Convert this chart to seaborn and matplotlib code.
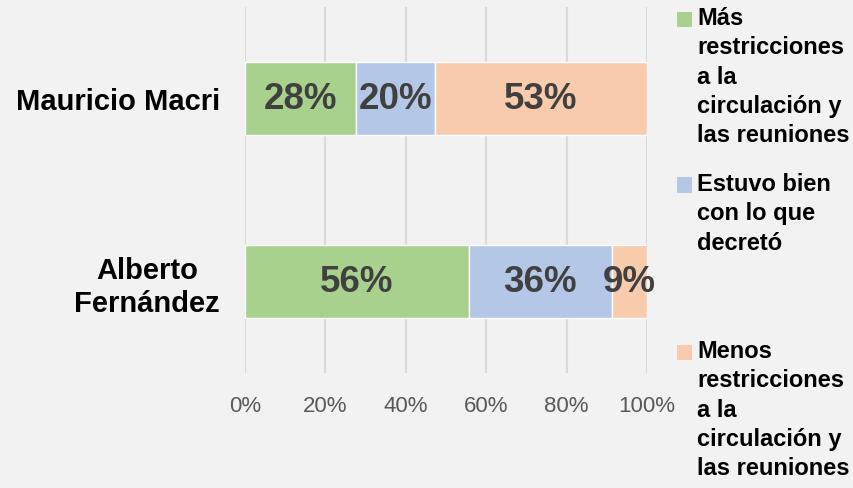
import matplotlib
matplotlib.use("Agg")
import matplotlib.pyplot as plt
import seaborn as sns
import pandas as pd
import numpy as np
from matplotlib.patches import Rectangle

# ---- data ----
candidates = ["Mauricio Macri", "Alberto\nFernández"]
series_names = [
    "Más\nrestricciones\na la\ncirculación y\nlas reuniones",
    "Estuvo bien\ncon lo que\ndecretó",
    "Menos\nrestricciones\na la\ncirculación y\nlas reuniones",
]
mas_restricciones = [27.6, 55.6]
estuvo_bien = [19.6, 35.6]
menos_restricciones = [52.8, 8.8]
bar_labels = [["28%", "56%"], ["20%", "36%"], ["53%", "9%"]]
tick_values = [0, 20, 40, 60, 80, 100]
tick_labels = ["0%", "20%", "40%", "60%", "80%", "100%"]

colors = ["#A9D18E", "#B4C7E7", "#F8CBAD"]

sns.set_theme(style="white")
plt.rcParams["font.family"] = ["Liberation Sans", "DejaVu Sans"]

df = pd.DataFrame({
    "candidate": candidates,
    "s0": mas_restricciones,
    "s1": estuvo_bien,
    "s2": menos_restricciones,
})

bg = "#F2F2F2"
fig = plt.figure(figsize=(8.54, 4.89), dpi=100, facecolor=bg)
ax = fig.add_axes([245 / 854, 1 - 374 / 489, (647 - 245) / 854, 366 / 489])
ax.set_facecolor(bg)

left = np.zeros(len(candidates))
for i, col in enumerate(["s0", "s1", "s2"]):
    sns.barplot(data=df, x=col, y="candidate", orient="h", color=colors[i],
                left=left, width=0.4, ax=ax, saturation=1, zorder=3)
    cont = ax.containers[-1]
    ax.bar_label(cont, labels=bar_labels[i], label_type="center",
                 fontsize=26.5, fontweight="bold", color="#404040", zorder=4)
    left = left + df[col].values

ax.set_xlim(0, 100)
ax.set_ylim(1.5, -0.5)
ax.set_xticks(tick_values)
ax.set_xticklabels(tick_labels, fontsize=16, color="#595959")
ax.set_xlabel("")
ax.set_ylabel("")
ax.tick_params(axis="x", length=0, pad=16)
ax.tick_params(axis="y", length=0, pad=18)
for lab in ax.get_yticklabels():
    lab.set_fontsize(21)
    lab.set_fontweight("bold")
    lab.set_color("black")
    lab.set_multialignment("center")

ax.grid(axis="x", color="#D9D9D9", linewidth=1.5, zorder=0)
ax.grid(axis="y", visible=False)
for s in ax.spines.values():
    s.set_visible(False)

# ---- legend (manual) ----
legend_y = [20, 186, 353]
for name, c, yc in zip(series_names, colors, legend_y):
    fig.patches.append(Rectangle((677 / 854, 1 - (yc + 7.5) / 489), 15 / 854, 15 / 489,
                                 transform=fig.transFigure, facecolor=c, edgecolor="none"))
    fig.text(697 / 854, 1 - (yc - 13) / 489, name, ha="left", va="top",
             fontsize=17, fontweight="bold", color="black", linespacing=1.35)

fig.savefig("out.png", dpi=100, facecolor=bg)
